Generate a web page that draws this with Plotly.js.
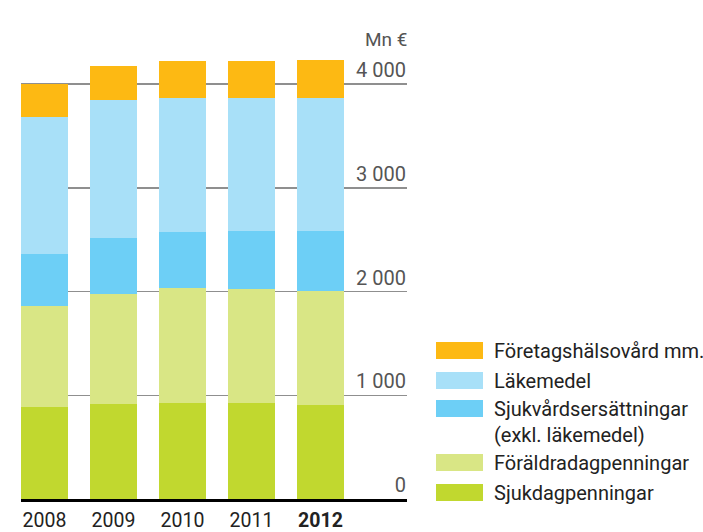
<!DOCTYPE html>
<html>
<head>
<meta charset="utf-8">
<script src="https://cdn.plot.ly/plotly-3.0.1.min.js"></script>
<style>html,body{margin:0;padding:0;background:#fff;}#chart{width:703px;height:532px;}</style>
</head>
<body>
<div id="chart"></div>
<script>
// Categories (years)
const years = ["2008", "2009", "2010", "2011", "2012"];
const yearLabels = ["2008", "2009", "2010", "2011", "<b>2012</b>"];

// Series values, Mn €, stacked bottom to top
const sjukdagpenningar      = [890, 920, 930, 930, 910];
const foraldradagpenningar  = [972, 1058, 1106, 1095, 1097];
const sjukvardsersattningar = [504, 543, 542, 563, 581];
const lakemedel             = [1320, 1322, 1284, 1274, 1274];
const foretagshalsovard     = [314, 329, 357, 357, 376];

const seriesNames = ["Sjukdagpenningar", "Föräldradagpenningar", "Sjukvårdsersättningar<br>(exkl. läkemedel)", "Läkemedel", "Företagshälsovård mm."];
const seriesValues = [sjukdagpenningar, foraldradagpenningar, sjukvardsersattningar, lakemedel, foretagshalsovard];
const seriesColors = ["#C1D82F", "#D9E685", "#6DCFF6", "#A8E0F8", "#FDB913"];

const yTickVals = [0, 1000, 2000, 3000, 4000];
const unitLabel = "Mn €";

const FONT = "Roboto, 'DejaVu Sans', sans-serif";

const traces = seriesValues.map((vals, i) => ({
  type: "bar",
  x: years,
  y: vals,
  name: seriesNames[i],
  marker: {color: seriesColors[i], line: {width: 0}},
  showlegend: false,
  hoverinfo: "x+y+name"
}));

// Custom legend (top item first), drawn in paper coordinates
const shapes = [];
const annotations = [];
const legendTopPx = 342;
const plotTop = 40, plotH = 459, plotLeft = 21, plotW = 386;
const rowSteps = [0, 30, 58, 112, 142];
const order = [4, 3, 2, 1, 0];
order.forEach((si, k) => {
  const topPx = legendTopPx + rowSteps[k];
  const y0 = 1 - (topPx + 17 - plotTop) / plotH;
  const y1 = 1 - (topPx - plotTop) / plotH;
  const x0 = (436 - plotLeft) / plotW;
  const x1 = (483 - plotLeft) / plotW;
  shapes.push({type: "rect", xref: "paper", yref: "paper", x0: x0, x1: x1, y0: y0, y1: y1,
    fillcolor: seriesColors[si], line: {width: 0}, layer: "above"});
  const twoLine = seriesNames[si].indexOf("<br>") >= 0;
  annotations.push({
    xref: "paper", yref: "paper",
    x: (492 - plotLeft) / plotW,
    y: twoLine ? 1 - (topPx - 5 - plotTop) / plotH : (y0 + y1) / 2,
    xanchor: "left", yanchor: twoLine ? "top" : "middle",
    align: "left", showarrow: false,
    text: seriesNames[si],
    font: {family: FONT, size: 20, color: "#222"}
  });
});

annotations.push({
  xref: "paper", yref: "paper", x: 1, y: 1 - (39 - plotTop) / plotH,
  xanchor: "right", yanchor: "middle", xshift: 2, showarrow: false,
  text: unitLabel, font: {family: FONT, size: 19, color: "#555"}
});

const layout = {
  width: 703, height: 532,
  margin: {l: plotLeft, r: 703 - plotLeft - plotW, t: plotTop, b: 532 - plotTop - plotH, pad: 0},
  paper_bgcolor: "#fff", plot_bgcolor: "#fff",
  barmode: "stack",
  bargap: 0.32,
  separators: ", ",
  font: {family: FONT, color: "#222"},
  xaxis: {
    type: "category",
    range: [-0.3406, 5.254],
    tickmode: "array", tickvals: years, ticktext: yearLabels,
    showgrid: false, zeroline: false,
    showline: true, linecolor: "#000", linewidth: 2.5,
    ticks: "",
    ticklabelstandoff: 2,
    tickfont: {family: FONT, size: 19.5, color: "#222"},
    fixedrange: true
  },
  yaxis: {
    range: [0, 4426],
    side: "right",
    tickmode: "array", tickvals: yTickVals,
    tickformat: ",d",
    ticklabelposition: "inside top",
    ticklabelstandoff: -2,
    ticks: "",
    showgrid: true, gridcolor: "#8f8f8f", gridwidth: 1.5,
    zeroline: false, showline: false,
    tickfont: {family: FONT, size: 20, color: "#555"},
    fixedrange: true
  },
  shapes: shapes,
  annotations: annotations
};

Plotly.newPlot("chart", traces, layout, {displayModeBar: false, staticPlot: true});
</script>
</body>
</html>
